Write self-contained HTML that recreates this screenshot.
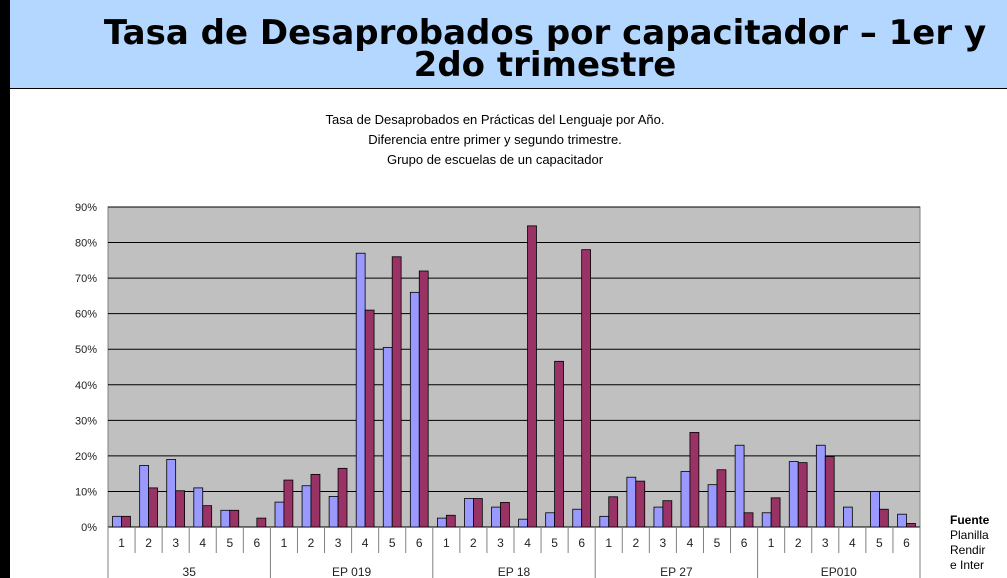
<!DOCTYPE html>
<html><head><meta charset="utf-8"><style>
body{margin:0;width:1007px;height:578px;overflow:hidden;background:#fff;position:relative;font-family:"Liberation Sans",sans-serif}
#bar{position:absolute;left:0;top:0;width:10px;height:578px;background:#000}
#band{position:absolute;left:10px;top:0;width:997px;height:88px;background:#b3d7ff;border-bottom:1px solid #000;overflow:hidden}
#title{position:absolute;left:-10px;top:17px;width:1090px;text-align:center;font-family:"DejaVu Sans",sans-serif;font-weight:bold;font-size:34px;line-height:32px;white-space:nowrap;color:#000}
#side{position:absolute;left:950px;top:513px;font-size:12px;line-height:15px;white-space:nowrap}
</style></head><body>
<div id="bar"></div>
<div id="band"><div id="title">Tasa de Desaprobados por capacitador – 1er y<br>2do trimestre</div></div>
<svg id="chart" width="1007" height="578" style="position:absolute;left:0;top:0"></svg>
<div id="side"><b>Fuente</b><br>Planilla<br>Rendir<br>e Inter</div>
<script>
const groups=["35","EP 019","EP 18","EP 27","EP010"];
const years=["1","2","3","4","5","6"];
const trim1=[3,17.3,19,11,4.7,0, 7,11.6,8.6,77,50.5,66, 2.5,8,5.6,2.2,4,5, 3,14,5.6,15.6,11.9,23, 4,18.4,23,5.6,10,3.6];
const trim2=[3,11,10.2,6,4.7,2.5, 13.2,14.8,16.5,61,76,72, 3.3,8,6.9,84.7,46.6,78, 8.5,12.9,7.4,26.6,16.1,4, 8.2,18.1,19.8,0,5,1];
const yTicks=[0,10,20,30,40,50,60,70,80,90];
const svg=document.getElementById('chart');const NS='http://www.w3.org/2000/svg';
function mk(t,a,p){const e=document.createElementNS(NS,t);for(const k in a)e.setAttribute(k,a[k]);(p||svg).appendChild(e);return e;}
const X0=108,X1=920,Y0=527,Y1=207,N=trim1.length,cw=(X1-X0)/N;
const y=v=>Y0-(v/90)*(Y0-Y1);
const x=i=>X0+i*cw;
// subtitle
["Tasa de Desaprobados en Prácticas del Lenguaje por Año.","Diferencia entre primer y segundo trimestre.","Grupo de escuelas de un capacitador"].forEach((s,i)=>{
const t=mk('text',{x:495,y:124+i*20,'text-anchor':'middle','font-size':13,'font-family':'Liberation Sans, sans-serif'});t.textContent=s;

});
const pa=mk('rect',{x:X0,y:Y1,width:X1-X0,height:Y0-Y1,fill:'#c0c0c0',stroke:'#808080'});


yTicks.forEach(v=>{
const g=mk('line',{x1:X0,x2:X1,y1:y(v),y2:y(v),stroke:'#000','stroke-width':1});


const t=mk('text',{x:97,y:y(v)+4,'text-anchor':'end','font-size':11,fill:'#222'});t.textContent=v+'%';

});
const bw=cw*0.33;
for(let i=0;i<N;i++){
const cx=x(i)+cw/2;
[[trim1,'#9999ff',cx-bw],[trim2,'#993366',cx]].forEach(([arr,c,bx])=>{
if(arr[i]<=0)return;
const r=mk('rect',{x:bx,y:y(arr[i]),width:bw,height:Y0-y(arr[i]),fill:c,stroke:'#000','stroke-width':0.8});

});
const t=mk('text',{x:cx,y:547,'text-anchor':'middle','font-size':12,fill:'#222'});t.textContent=years[i%6];


const sep=(i%6===0)?578:553;
const l=mk('line',{x1:x(i),x2:x(i),y1:Y0,y2:sep,stroke:'#808080'});

}
mk('line',{x1:X1,x2:X1,y1:Y0,y2:578,stroke:'#808080'});
groups.forEach((g,k)=>{const t=mk('text',{x:x(k*6)+3*cw,y:576,'text-anchor':'middle','font-size':12,fill:'#222'});t.textContent=g;

});
</script>
</body></html>
